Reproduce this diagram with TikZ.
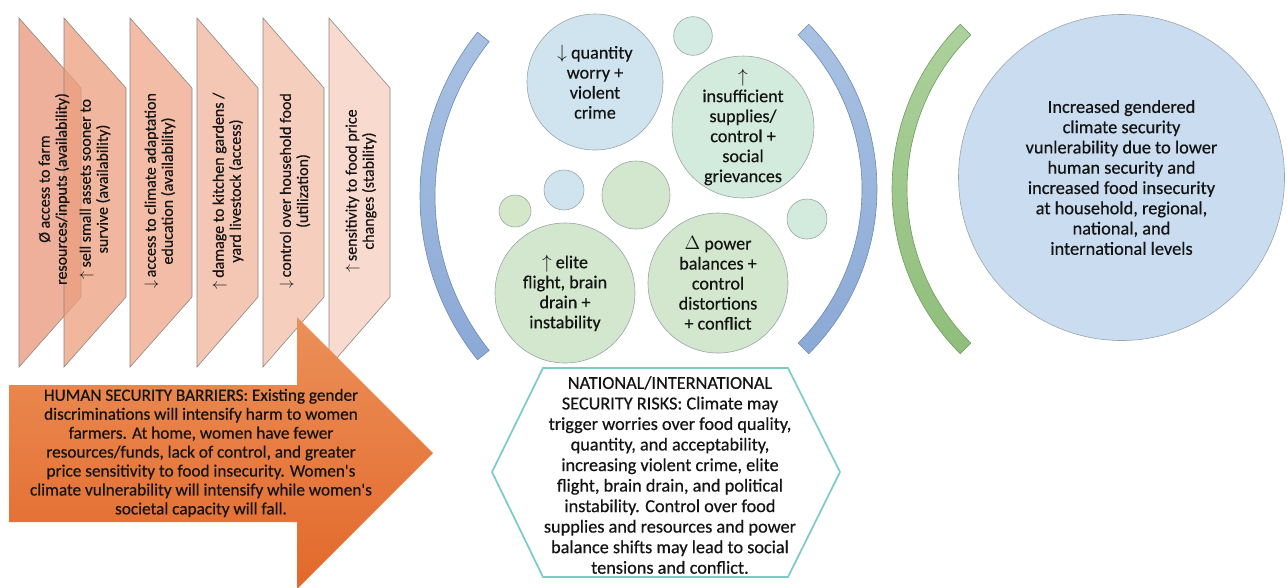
\documentclass[tikz,border=0pt]{standalone}
\usepackage{fontspec}
\setmainfont{Carlito}[FakeBold=0.5]
\definecolor{txt}{HTML}{141414}
\definecolor{cA}{HTML}{E8957A}
\definecolor{cB}{HTML}{EB9E7E}
\definecolor{cC}{HTML}{EFA688}
\definecolor{cD}{HTML}{F0B39B}
\definecolor{cE}{HTML}{F3BEA8}
\definecolor{cF}{HTML}{F6CEBE}
\definecolor{chevdraw}{HTML}{8C8680}
\definecolor{arrtop}{HTML}{EB9059}
\definecolor{arrbot}{HTML}{E3682A}
\definecolor{blueA}{HTML}{A9C2E3}
\definecolor{blueB}{HTML}{8BA9D6}
\definecolor{bluedraw}{HTML}{6F89B2}
\definecolor{greenA}{HTML}{ADD19D}
\definecolor{greenB}{HTML}{8FBE7B}
\definecolor{greendraw}{HTML}{6F9A5C}
\definecolor{bubdraw}{HTML}{9AA4A8}
\definecolor{bBlue}{HTML}{CFE4EF}
\definecolor{bTeal}{HTML}{D3EBE3}
\definecolor{bTealG}{HTML}{D3EBDC}
\definecolor{bGreen}{HTML}{D2E7CD}
\definecolor{bGreenB}{HTML}{D4E7C9}
\definecolor{hexcol}{HTML}{7DCBC6}
\definecolor{bigcirc}{HTML}{CADCEF}
\tikzset{
  chev/.style={draw=chevdraw, line width=0.45pt, fill opacity=0.75},
  chevtxt/.style={rotate=90, align=center, text=txt, inner sep=0pt,
    font=\fontsize{12}{12.8}\selectfont},
  bub/.style={circle, draw=bubdraw, line width=0.45pt, inner sep=0pt},
  bubtxt/.style={align=center, text=txt, font=\fontsize{13.6}{15}\selectfont},
  arctxt/.style={align=center, text=txt, inner sep=0pt},
}
\begin{document}
\begin{tikzpicture}[x=0.75pt,y=-0.75pt]
\useasboundingbox (0,0) rectangle (1287,587);

% ---- chevrons ----
\path[chev, fill=cA] (19,18) -- (81,88) -- (81,297) -- (19,367) -- cycle;
\path[chev, fill=cB] (64,18) -- (126,88) -- (126,297) -- (64,367) -- cycle;
\path[chev, fill=cC] (130,18) -- (192,88) -- (192,297) -- (130,367) -- cycle;
\path[chev, fill=cD] (197,18) -- (258,88) -- (258,297) -- (197,367) -- cycle;
\path[chev, fill=cE] (263,18) -- (324,88) -- (324,297) -- (263,367) -- cycle;
\path[chev, fill=cF] (329,18) -- (390,88) -- (390,297) -- (329,367) -- cycle;

\node[chevtxt] (t1) at (54,189) {Ø access to farm\\resources/inputs (availability)};
\node[chevtxt] (t2) at (95,189) {$\uparrow$ sell small assets sooner to\\survive (availability)};
\node[chevtxt] (t3) at (160,191) {$\downarrow$ access to climate adaptation\\education (availability)};
\node[chevtxt] (t4) at (228,191) {$\uparrow$ damage to kitchen gardens /\\yard livestock (access)};
\node[chevtxt] (t5) at (295,191) {$\downarrow$ control over household food\\(utilization)};
\node[chevtxt] (t6) at (361,191) {$\uparrow$ sensitivity to food price\\changes (stability)};

% ---- big arrow ----
\shade[top color=arrtop, bottom color=arrbot]
  (9,385) -- (297,385) -- (297,317) -- (433,453) -- (297,589) -- (297,522) -- (9,522) -- cycle;
\node[arctxt, font=\fontsize{12.9}{14.2}\selectfont] (hsb) at (201,453)
  {HUMAN SECURITY BARRIERS: Existing gender\\
   discriminations will intensify harm to women\\
   farmers. At home, women have fewer\\
   resources/funds, lack of control, and greater\\
   price sensitivity to food insecurity. Women\textquotesingle s\\
   climate vulnerability will intensify while women\textquotesingle s\\
   societal capacity will fall.};

% ---- arcs ----
\shade[top color=blueA, bottom color=blueB, draw=bluedraw, line width=0.45pt]
  plot[domain=141.3:218.7, samples=60] ({682+262*cos(\x)},{196+262*sin(\x)})
  -- plot[domain=218.7:141.3, samples=60] ({682+247*cos(\x)},{196+247*sin(\x)}) -- cycle;
\shade[top color=blueA, bottom color=blueB, draw=bluedraw, line width=0.45pt]
  plot[domain=-45:45, samples=60] ({644+233*cos(\x)},{189+233*sin(\x)})
  -- plot[domain=45:-45, samples=60] ({644+218*cos(\x)},{189+218*sin(\x)}) -- cycle;
\shade[top color=greenA, bottom color=greenB, draw=greendraw, line width=0.45pt]
  plot[domain=135:225, samples=60] ({1125+233*cos(\x)},{189+233*sin(\x)})
  -- plot[domain=225:135, samples=60] ({1125+218*cos(\x)},{189+218*sin(\x)}) -- cycle;

% ---- bubbles ----
\node[bub, bubtxt, fill=bBlue, minimum size=102pt] (q1) at (595,82)
  {$\downarrow$ quantity\\worry +\\violent\\crime};
\node[bub, fill=bTeal, minimum size=29pt] (s1) at (693,36) {};
\node[bub, bubtxt, fill=bTealG, minimum size=105pt] (q2) at (743,127)
  {$\uparrow$\\insufficient\\supplies/\\control +\\social\\grievances};
\node[bub, fill=bBlue, minimum size=30pt] (s2) at (564,190) {};
\node[bub, fill=bGreen, minimum size=51pt] (s3) at (636,195) {};
\node[bub, fill=bGreenB, minimum size=24pt] (s4) at (515,211) {};
\node[bub, fill=bTealG, minimum size=30pt] (s5) at (807,219) {};
\node[bub, bubtxt, fill=bGreen, minimum size=105pt] (q3) at (565,293)
  {$\uparrow$ elite\\flight, brain\\drain +\\instability};
\node[bub, bubtxt, fill=bGreen, minimum size=105pt] (q4) at (718,283)
  {$\Delta$ power\\balances +\\control\\distortions\\+ conflict};

% ---- hexagon ----
\draw[hexcol, line width=1.3pt, fill=white]
  (543,368) -- (788,368) -- (840,472) -- (788,577) -- (543,577) -- (492,472) -- cycle;
\node[arctxt, font=\fontsize{13.7}{15.4}\selectfont] (nisr) at (670,475)
  {NATIONAL/INTERNATIONAL\\
   SECURITY RISKS: Climate may\\
   trigger worries over food quality,\\
   quantity, and acceptability,\\
   increasing violent crime, elite\\
   flight, brain drain, and political\\
   instability. Control over food\\
   supplies and resources and power\\
   balance shifts may lead to social\\
   tensions and conflict.};

% ---- big circle ----
\node[bub, fill=bigcirc, minimum size=244.5pt, arctxt,
      font=\fontsize{13.8}{15.2}\selectfont] (out) at (1121.5,177.5)
  {Increased gendered\\climate security\\vunlerability due to lower\\human security and\\increased food insecurity\\at household, regional,\\national, and\\international levels};
\end{tikzpicture}
\end{document}
